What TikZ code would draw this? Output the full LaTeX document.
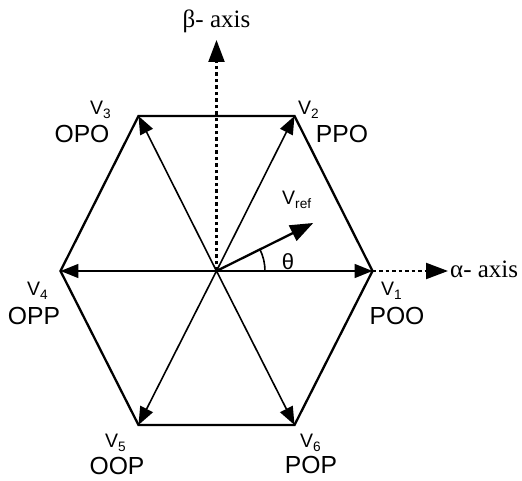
\documentclass[tikz,border=0pt]{standalone}
\usepackage{fontspec}
\setmainfont{Liberation Serif}
\setsansfont{Liberation Sans}
\usetikzlibrary{arrows.meta}

\begin{document}
\begin{tikzpicture}[x=1pt, y=1pt,
    hexedge/.style={line width=2.3pt},
    spoke/.style={line width=1.6pt, -{Triangle[length=18pt,width=14pt]}},
    vrefarrow/.style={line width=2.3pt, -{Triangle[length=23pt,width=17pt]}},
    axisline/.style={line width=2.2pt, dash pattern=on 3.5pt off 3pt, -{Triangle[length=22pt,width=16pt]}},
    vlbl/.style={inner sep=0pt, font=\sffamily\fontsize{19.5}{20}\selectfont},
    statelbl/.style={inner sep=0pt, font=\sffamily\fontsize{24.7}{26}\selectfont},
    axislbl/.style={inner sep=0pt, font=\fontsize{25}{26}\selectfont}]
\useasboundingbox (-216.5,-210) rectangle (305.5,271);
% Centre and hexagon corners
\coordinate (O) at (0,0);
\foreach \i/\px/\py in {1/156/0, 2/78/155, 3/-78/155, 4/-156/0, 5/-78/-154, 6/78/-154} {
    \coordinate (v\i) at (\px,\py);
}
% Voltage vectors
\foreach \i in {1,...,6} {
    \draw[spoke] (O) -- (v\i);
}
% Hexagon
\draw[hexedge] (v1) -- (v2) -- (v3) -- (v4) -- (v5) -- (v6) -- cycle;
% Axes
\coordinate (btip) at (0,231);
\coordinate (atip) at (231.5,0);
\draw[axisline] (O) -- (btip);
\draw[axisline] (v1) -- (atip);
\node[axislbl, anchor=base] (beta) at (0,243) {β- axis};
\node[axislbl, anchor=base west] (alpha) at (233.5,-6.5) {α- axis};
% Reference vector
\coordinate (vref) at (26.4:108);
\draw[vrefarrow] (O) -- (vref);
\node[vlbl, anchor=base west] (vreflbl) at (65.5,66) {V\textsubscript{ref}};
\draw[line width=1.6pt] (48.5,0) arc[start angle=0, end angle=26.4, radius=48.5];
\node[statelbl, font=\sffamily\fontsize{22}{24}\selectfont] (theta) at (71.5,9) {θ};
% Vector names and switching states
\foreach \i/\vx/\vy/\sx/\sy/\st in {1/164.5/-25/180.5/-54/POO, 2/81.5/156/125.5/128/PPO,
        3/-126.5/156/-134.5/128/OPO, 4/-189.5/-25/-182.5/-54/OPP,
        5/-111.5/-177/-99.5/-204/OOP, 6/83.5/-177/94.5/-203/POP} {
    \node[vlbl, anchor=base west] (n\i) at (\vx,\vy) {V\textsubscript{\i}};
    \node[statelbl, anchor=base] (s\i) at (\sx,\sy) {\st};
}
\end{tikzpicture}
\end{document}
